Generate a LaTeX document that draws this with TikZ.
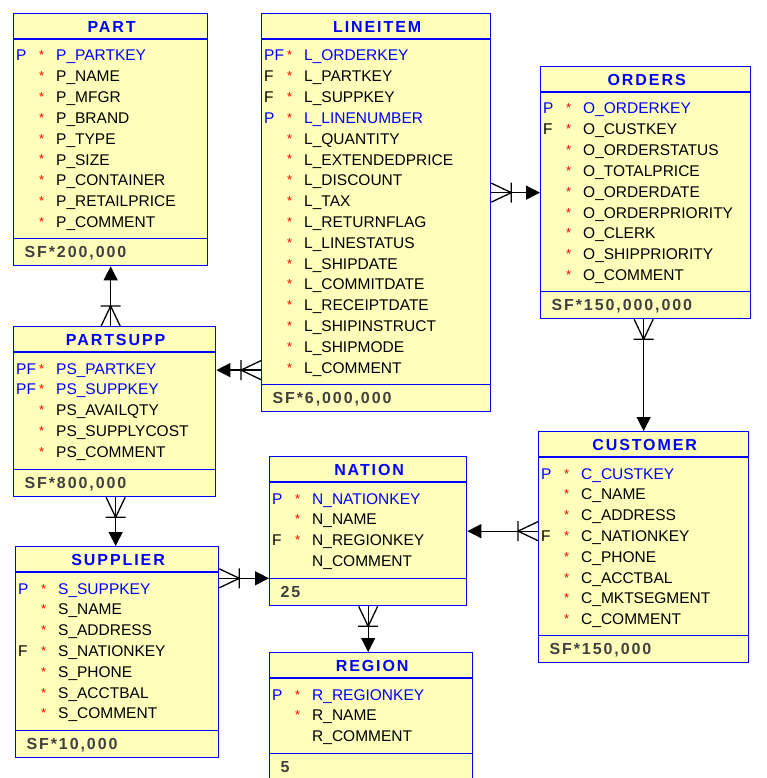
\documentclass[tikz,border=0pt]{standalone}
\usepackage{fontspec}
\setmainfont{Liberation Sans}
\newfontfamily\capsfont[LetterSpace=12]{Liberation Sans Bold}
\usetikzlibrary{arrows.meta, calc}
\definecolor{entblue}{RGB}{0, 0, 255}
\definecolor{entfill}{RGB}{255, 255, 187}
\definecolor{sfgray}{RGB}{64, 64, 64}

\tikzset{
  ent/.style={draw=entblue, fill=entfill, line width=1.3pt, inner sep=0pt, anchor=north west},
  entsep/.style={entblue, line width=1.3pt},
  enttitle/.style={text=entblue, font=\fontsize{16}{18}\capsfont},
  sf/.style={text=sfgray, font=\fontsize{16}{18}\capsfont, anchor=base west},
  pk/.style={text=entblue},
  col/.style={text=black},
  rel/.style={black, line width=1.3pt, -{Triangle[length=14pt, width=14pt]}},
  crow/.style={black, line width=1.3pt},
}

\newcommand{\noflag}{}
% name, left, top, right, bottom, title, footer
\newcommand{\entity}[7]{%
  \node[ent, minimum width={(#4-#2)*1pt}, minimum height={(#5-#3)*1pt}] (#1) at (#2,#3) {};
  \coordinate (#1-tline) at ($(#1.north west)+(0,26)$);
  \coordinate (#1-sfline) at ($(#1.south west)+(0,-28)$);
  \draw[entsep] (#1-tline) -- (#1-tline -| #1.east);
  \draw[entsep] (#1-sfline) -- (#1-sfline -| #1.east);
  \node[enttitle] (#1-title) at ($(#1.north)+(1,14)$) {#6};
  \node[sf] (#1-sf) at ($(#1.south west)+(8,-8.5)$) {#7};
}
% name, rows (flag/star/column/style)
\newcommand{\entrows}[2]{%
  \foreach \fl/\mk/\cl/\st [count=\i from 0] in {#2} {
    \node[\st, anchor=base west, inner sep=0pt] (#1-f\i) at ($(#1.north west)+(3,48+20.8*\i)$) {\fl};
    \node[red, anchor=base west, inner sep=0pt, font=\fontsize{13}{15}\selectfont] (#1-m\i) at ($(#1.north west)+(26,47+20.8*\i)$) {\mk};
    \node[\st, anchor=base west, inner sep=0pt] (#1-c\i) at ($(#1.north west)+(43,48+20.8*\i)$) {\cl};
  }
}
% crow's foot at the many end
\newcommand{\crowfoot}[2]{%
  \draw[crow, shift={(#1)}, rotate=#2] (0,-9.5) -- (20,0) -- (0,9.5) (20,-10) -- (20,10);
}

\begin{document}
\begin{tikzpicture}[x=1pt, y=-1pt, font=\fontsize{15.5}{18}\selectfont]
    \useasboundingbox (0,0) rectangle (767,778);

    \entity{part}{13}{13}{207}{265}{PART}{SF*200,000}
    \entrows{part}{P/*/P\_PARTKEY/pk, \noflag/*/P\_NAME/col, \noflag/*/P\_MFGR/col,
      \noflag/*/P\_BRAND/col, \noflag/*/P\_TYPE/col, \noflag/*/P\_SIZE/col,
      \noflag/*/P\_CONTAINER/col, \noflag/*/P\_RETAILPRICE/col, \noflag/*/P\_COMMENT/col}

    \entity{lineitem}{261}{13}{490}{411}{LINEITEM}{SF*6,000,000}
    \entrows{lineitem}{PF/*/L\_ORDERKEY/pk, F/*/L\_PARTKEY/col, F/*/L\_SUPPKEY/col,
      P/*/L\_LINENUMBER/pk, \noflag/*/L\_QUANTITY/col, \noflag/*/L\_EXTENDEDPRICE/col,
      \noflag/*/L\_DISCOUNT/col, \noflag/*/L\_TAX/col, \noflag/*/L\_RETURNFLAG/col,
      \noflag/*/L\_LINESTATUS/col, \noflag/*/L\_SHIPDATE/col, \noflag/*/L\_COMMITDATE/col,
      \noflag/*/L\_RECEIPTDATE/col, \noflag/*/L\_SHIPINSTRUCT/col, \noflag/*/L\_SHIPMODE/col,
      \noflag/*/L\_COMMENT/col}

    \entity{orders}{540}{66}{750}{318}{ORDERS}{SF*150,000,000}
    \entrows{orders}{P/*/O\_ORDERKEY/pk, F/*/O\_CUSTKEY/col, \noflag/*/O\_ORDERSTATUS/col,
      \noflag/*/O\_TOTALPRICE/col, \noflag/*/O\_ORDERDATE/col, \noflag/*/O\_ORDERPRIORITY/col,
      \noflag/*/O\_CLERK/col, \noflag/*/O\_SHIPPRIORITY/col, \noflag/*/O\_COMMENT/col}

    \entity{partsupp}{13}{326}{215}{496}{PARTSUPP}{SF*800,000}
    \entrows{partsupp}{PF/*/PS\_PARTKEY/pk, PF/*/PS\_SUPPKEY/pk, \noflag/*/PS\_AVAILQTY/col,
      \noflag/*/PS\_SUPPLYCOST/col, \noflag/*/PS\_COMMENT/col}

    \entity{customer}{538}{431}{748}{662}{CUSTOMER}{SF*150,000}
    \entrows{customer}{P/*/C\_CUSTKEY/pk, \noflag/*/C\_NAME/col, \noflag/*/C\_ADDRESS/col,
      F/*/C\_NATIONKEY/col, \noflag/*/C\_PHONE/col, \noflag/*/C\_ACCTBAL/col,
      \noflag/*/C\_MKTSEGMENT/col, \noflag/*/C\_COMMENT/col}

    \entity{nation}{269}{456}{466}{605}{NATION}{25}
    \entrows{nation}{P/*/N\_NATIONKEY/pk, \noflag/*/N\_NAME/col, F/*/N\_REGIONKEY/col,
      \noflag/\noflag/N\_COMMENT/col}

    \entity{supplier}{15}{546}{218}{757}{SUPPLIER}{SF*10,000}
    \entrows{supplier}{P/*/S\_SUPPKEY/pk, \noflag/*/S\_NAME/col, \noflag/*/S\_ADDRESS/col,
      F/*/S\_NATIONKEY/col, \noflag/*/S\_PHONE/col, \noflag/*/S\_ACCTBAL/col,
      \noflag/*/S\_COMMENT/col}

    \entity{region}{269}{652}{472}{780}{REGION}{5}
    \entrows{region}{P/*/R\_REGIONKEY/pk, \noflag/*/R\_NAME/col, \noflag/\noflag/R\_COMMENT/col}

    % relationships
    \coordinate (ps-part) at (part.south |- partsupp.north);
    \draw[rel] (ps-part) -- (part.south);
    \crowfoot{ps-part}{90}

    \coordinate (li-ps) at (lineitem.west |- partsupp-c0);
    \draw[rel] (li-ps) -- (partsupp.east |- partsupp-c0);
    \crowfoot{li-ps}{180}

    \coordinate (li-ord) at (lineitem.east |- orders.west);
    \draw[rel] (li-ord) -- (orders.west);
    \crowfoot{li-ord}{0}

    \coordinate (ord-cust) at ($(orders.south)+(-2,0)$);
    \draw[rel] (ord-cust) -- (ord-cust |- customer.north);
    \crowfoot{ord-cust}{-90}

    \coordinate (ps-supp) at ($(partsupp.south)+(1,0)$);
    \draw[rel] (ps-supp) -- (ps-supp |- supplier.north);
    \crowfoot{ps-supp}{-90}

    \coordinate (supp-nat) at (supplier.east |- nation-sfline);
    \draw[rel] (supp-nat) -- (nation-sfline);
    \crowfoot{supp-nat}{0}

    \coordinate (cust-nat) at (customer.west |- nation.east);
    \draw[rel] (cust-nat) -- (nation.east);
    \crowfoot{cust-nat}{180}

    \coordinate (nat-reg) at (nation.south);
    \draw[rel] (nat-reg) -- (nat-reg |- region.north);
    \crowfoot{nat-reg}{-90}
\end{tikzpicture}
\end{document}
